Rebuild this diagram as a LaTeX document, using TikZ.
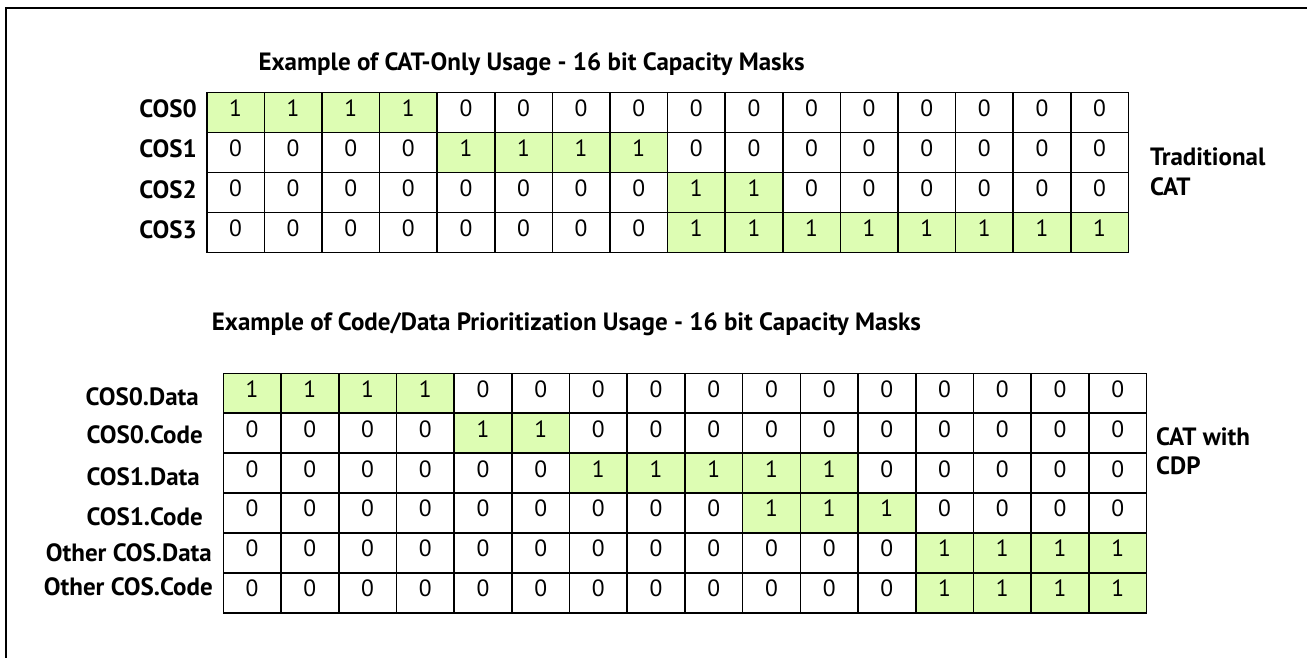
\documentclass[tikz,border=0pt]{standalone}
\usepackage{fontspec}
\setmainfont{PT Sans}
\definecolor{maskgreen}{RGB}{221,253,179}
\begin{document}
\begin{tikzpicture}[x=1pt,y=-1pt,
  cell/.style={draw=black, line width=1.6pt, minimum width=57.6pt, minimum height=39.9pt,
    inner sep=0pt, text height=16pt, text depth=8pt, font=\fontsize{23.5}{23.5}\selectfont},
  bit0/.style={fill=white},
  bit1/.style={fill=maskgreen},
  rowlab/.style={anchor=base east, inner sep=0pt, font=\bfseries\fontsize{25}{25}\selectfont},
  title/.style={anchor=base west, inner sep=0pt, font=\bfseries\fontsize{25}{25}\selectfont},
  side/.style={anchor=base west, inner sep=0pt, font=\bfseries\fontsize{25}{25}\selectfont}]
\useasboundingbox (0,0) rectangle (1307,658);
\draw[line width=2pt] (6,658) -- (6,8) -- (1307,8);

% top grid
\node[title] (t1) at (258.3,70.7) {Example of CAT-Only Usage - 16 bit Capacity Masks};
\foreach \row [count=\r from 0] in {
  {1,1,1,1,0,0,0,0,0,0,0,0,0,0,0,0},
  {0,0,0,0,1,1,1,1,0,0,0,0,0,0,0,0},
  {0,0,0,0,0,0,0,0,1,1,0,0,0,0,0,0},
  {0,0,0,0,0,0,0,0,1,1,1,1,1,1,1,1}}{
  \foreach \v [count=\c from 0] in \row {
    \node[cell, bit\v] (a-\r-\c) at ({206.7+57.6*(\c+0.5)},{92.7+39.9*(\r+0.5)}) {\v};
  }
}
\node[rowlab] (la0) at (197,118) {COS0};
\node[rowlab] (la1) at (197,158) {COS1};
\node[rowlab] (la2) at (197,198) {COS2};
\node[rowlab] (la3) at (197,238) {COS3};
\node[side] (s1a) at (1150,165) {Traditional};
\node[side] (s1b) at (1150,195) {CAT};

% bottom grid
\node[title] (t2) at (211.7,330.7) {Example of Code/Data Prioritization Usage - 16 bit Capacity Masks};
\foreach \row [count=\r from 0] in {
  {1,1,1,1,0,0,0,0,0,0,0,0,0,0,0,0},
  {0,0,0,0,1,1,0,0,0,0,0,0,0,0,0,0},
  {0,0,0,0,0,0,1,1,1,1,1,0,0,0,0,0},
  {0,0,0,0,0,0,0,0,0,1,1,1,0,0,0,0},
  {0,0,0,0,0,0,0,0,0,0,0,0,1,1,1,1},
  {0,0,0,0,0,0,0,0,0,0,0,0,1,1,1,1}}{
  \foreach \v [count=\c from 0] in \row {
    \node[cell, bit\v, minimum width=57.7pt] (b-\r-\c) at ({223.3+57.7*(\c+0.5)},{373.3+39.9*(\r+0.5)}) {\v};
  }
}
\node[rowlab] (lb0) at (199,405) {COS0.Data};
\node[rowlab] (lb1) at (203,443.3) {COS0.Code};
\node[rowlab] (lb2) at (200,485) {COS1.Data};
\node[rowlab] (lb3) at (203,525) {COS1.Code};
\node[rowlab] (lb4) at (212,561.7) {Other COS.Data};
\node[rowlab] (lb5) at (213,595) {Other COS.Code};
\node[side] (s2a) at (1156,445) {CAT with};
\node[side] (s2b) at (1156,474) {CDP};
\end{tikzpicture}
\end{document}
